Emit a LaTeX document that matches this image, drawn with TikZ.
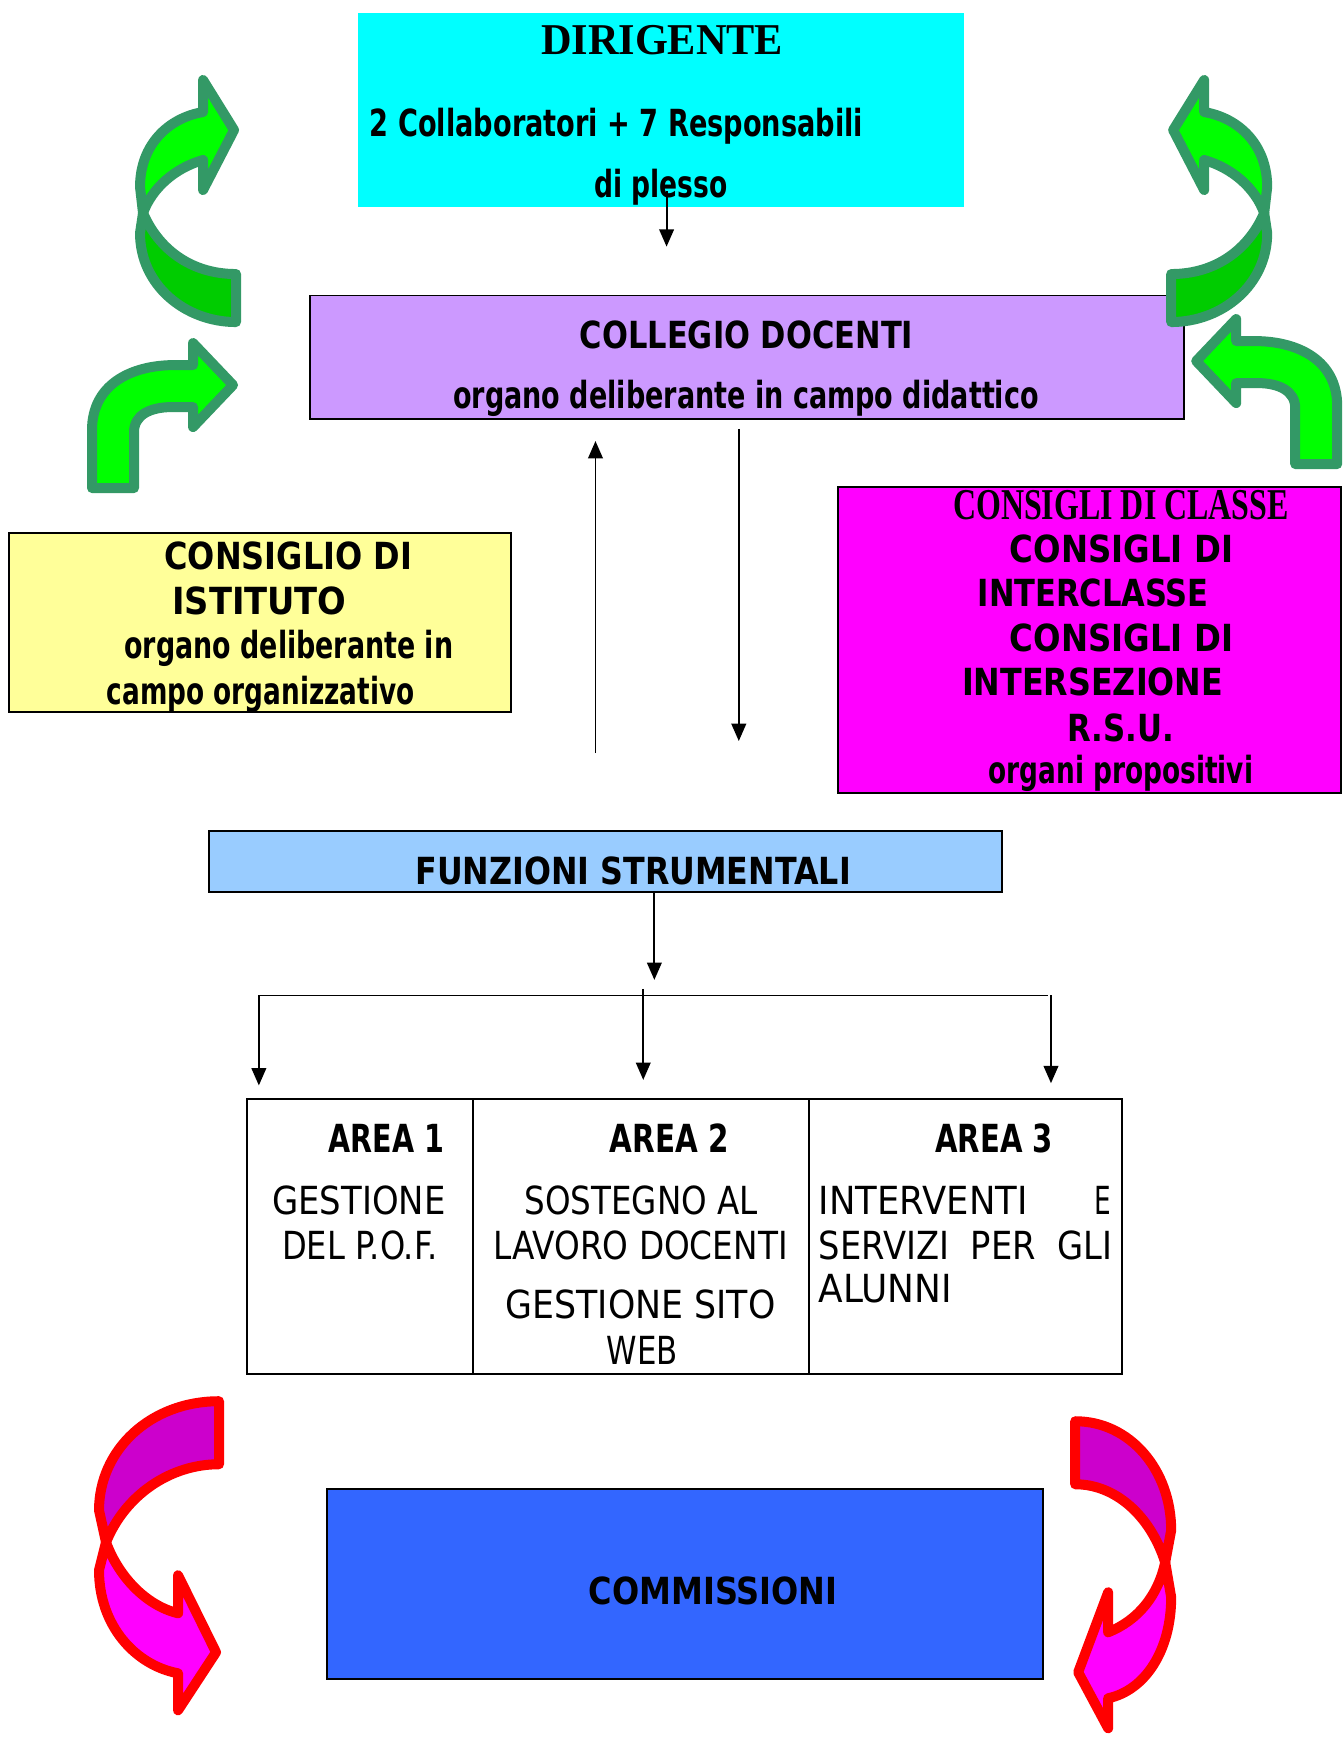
\documentclass[tikz,border=0pt]{standalone}
\usepackage{fontspec}
\usepackage{graphicx}
\usetikzlibrary{arrows.meta}
\newfontfamily\comicf{DejaVu Sans}
\newfontfamily\narrowf{DejaVu Sans}
\newfontfamily\tnr{Liberation Serif}
\newlength\pxu \setlength\pxu{0.8331pt}
\newcommand\fitto[2]{\resizebox{#1\pxu}{\height}{#2}}
\definecolor{cyanbox}{HTML}{00FFFF}
\definecolor{lavbox}{HTML}{CC99FF}
\definecolor{yelbox}{HTML}{FFFF99}
\definecolor{magbox}{HTML}{FF00FF}
\definecolor{funbox}{HTML}{99CCFF}
\definecolor{combox}{HTML}{3366FF}
\definecolor{gbright}{HTML}{00FF00}
\definecolor{gdark}{HTML}{00CC00}
\definecolor{gline}{HTML}{339966}
\definecolor{rpurple}{HTML}{CC00CC}
\definecolor{rmag}{HTML}{FF00FF}
\definecolor{rline}{HTML}{FF0000}
\newcommand\boxat[6]{\node[boxs,#6,minimum width={(#4-#2)*0.8331pt},minimum height={(#5-#3)*0.8331pt}] (#1) at ({(#2+#4)/2},{(#3+#5)/2}) {};}
\tikzset{
 lbl/.style={inner sep=0pt, outer sep=0pt, anchor=base west, font=\comicf\bfseries\fontsize{28}{28}\selectfont},
 lblt/.style={lbl, font=\tnr\bfseries\fontsize{33}{33}\selectfont},
 lbln/.style={lbl, font=\narrowf\fontsize{29}{29}\selectfont},
 lblnb/.style={lbl, font=\narrowf\bfseries\fontsize{29}{29}\selectfont},
 boxs/.style={draw=black, line width=1.4pt, inner sep=0pt, outer sep=0pt},
 conn/.style={line width=1.4pt, -{Triangle[length=13pt,width=11pt]}},
 gstroke/.style={draw=gline, line width=7.5pt, line join=round},
 rstroke/.style={draw=rline, line width=7.5pt, line join=round},
}
\newcommand\greenU{%
 \filldraw[gstroke, fill=gdark] (143,213) -- (140,233) .. controls (140,285) and (185,322) .. (236,322) -- (236,274) .. controls (190,274) and (158,248) .. (143,213) -- cycle;
 \filldraw[gstroke, fill=gbright] (143,213) -- (140,187) .. controls (140,145) and (168,118) .. (203,112) -- (203,80) -- (234,130) -- (203,190) -- (203,160) .. controls (175,168) and (152,188) .. (143,213) -- cycle;}
\newcommand\greenL{%
 \filldraw[gstroke, fill=gbright] (92,488) -- (92,430) .. controls (92,385) and (130,365) .. (175,365) -- (193,365) -- (193,343) -- (233,385) -- (193,427) -- (193,407) -- (172,407) .. controls (150,407) and (134,415) .. (134,432) -- (134,488) -- cycle;}
\begin{document}
\begin{tikzpicture}[x=0.8331pt,y=-0.8331pt]
\useasboundingbox (0,0) rectangle (1209,1568);
\fill[white] (0,0) rectangle (1209,1568);

% boxes
\boxat{dir}{322}{12}{868}{186}{draw=none,fill=cyanbox}
\boxat{col}{279}{266}{1066}{377}{fill=lavbox}
\boxat{ist}{8}{480}{460}{641}{fill=yelbox}
\boxat{cons}{754}{438}{1207}{714}{fill=magbox}
\boxat{fs}{188}{748}{902}{803}{fill=funbox}
\boxat{a1}{222}{989}{426}{1237}{fill=white}
\boxat{a2}{426}{989}{728}{1237}{fill=white}
\boxat{a3}{728}{989}{1010}{1237}{fill=white}
\boxat{com}{294}{1340}{939}{1511}{fill=combox}

% texts
\node[lblt] (tdir) at (487,49) {\fitto{218}{DIRIGENTE}};
\node[lbl] (tcoll) at (333,123) {\fitto{444}{2 Collaboratori + 7 Responsabili}};
\node[lbl] (tples) at (535,178) {\fitto{120}{di plesso}};
\node[lbl] (tcd) at (522,314) {\fitto{300}{COLLEGIO DOCENTI}};
\node[lbl] (tcd2) at (408,368) {\fitto{527}{organo deliberante in campo didattico}};
\node[lbl] (ti1) at (148,513) {\fitto{223}{CONSIGLIO DI}};
\node[lbl] (ti2) at (155,553) {\fitto{157}{ISTITUTO}};
\node[lbl] (ti3) at (112,593) {\fitto{296}{organo deliberante in}};
\node[lbl] (ti4) at (96,634) {\fitto{277}{campo organizzativo}};
\node[lblt] (tc1) at (858,468) {\fitto{302}{CONSIGLI DI CLASSE}};
\node[lbl] (tc2) at (909,506) {\fitto{201}{CONSIGLI DI}};
\node[lbl] (tc3) at (880,546) {\fitto{208}{INTERCLASSE}};
\node[lbl] (tc4) at (909,586) {\fitto{201}{CONSIGLI DI}};
\node[lbl] (tc5) at (866,626) {\fitto{235}{INTERSEZIONE}};
\node[lbl] (tc6) at (961,667) {\fitto{96}{R.S.U.}};
\node[lbl] (tc7) at (890,705) {\fitto{238}{organi propositivi}};
\node[lbl] (tfs) at (374,796) {\fitto{392}{FUNZIONI STRUMENTALI}};
\node[lblnb] (ta1) at (296,1037) {\fitto{104}{AREA 1}};
\node[lbln] (ta1a) at (245,1093) {\fitto{156}{GESTIONE}};
\node[lbln] (ta1b) at (254,1134) {\fitto{140}{DEL P.O.F.}};
\node[lblnb] (ta2) at (549,1037) {\fitto{107}{AREA 2}};
\node[lbln] (ta2a) at (472,1093) {\fitto{210}{SOSTEGNO AL}};
\node[lbln] (ta2b) at (444,1134) {\fitto{265}{LAVORO DOCENTI}};
\node[lbln] (ta2c) at (455,1187) {\fitto{243}{GESTIONE SITO}};
\node[lbln] (ta2d) at (546,1228) {\fitto{64}{WEB}};
\node[lblnb] (ta3) at (842,1037) {\fitto{106}{AREA 3}};
\node[lbln] (ta3a) at (737,1093) {\hbox to 263\pxu{\fitto{188}{INTERVENTI}\hfill\fitto{15}{E}}};
\node[lbln] (ta3b) at (737,1134) {\fitto{264}{SERVIZI~~PER~~GLI}};
\node[lbln] (ta3c) at (737,1172) {\fitto{120}{ALUNNI}};
\node[lbl] (tcom) at (530,1444) {\fitto{224}{COMMISSIONI}};

% connectors
\coordinate (d1) at (600,172); \coordinate (d2) at (600,222);
\draw[conn] (d1) -- (d2);
\coordinate (u1) at (536,678); \coordinate (u2) at (536,397);
\draw[conn] (u1) -- (u2);
\coordinate (v1) at (665,386); \coordinate (v2) at (665,667);
\draw[conn] (v1) -- (v2);
\coordinate (f2) at (589,882);
\draw[conn] (fs.south -| f2) -- (f2);
\coordinate (hl) at (233,896); \coordinate (hr) at (943,896);
\draw[line width=1.4pt] (hl) -- (hr);
\coordinate (t1) at (233,977);
\draw[conn] (hl) -- (t1);
\coordinate (m0) at (579,890); \coordinate (t2) at (579,972);
\draw[conn] (m0) -- (t2);
\coordinate (r0) at (946,896); \coordinate (t3) at (946,975);
\draw[conn] (r0) -- (t3);

% green arrows (full-size pixel coordinates)
\begin{scope}[x=0.75pt,y=-0.75pt]
 \greenU
 \greenL
\end{scope}
\begin{scope}[x=0.75pt,y=-0.75pt,xshift=1055.25pt,xscale=-1]
 \greenU
\end{scope}
\begin{scope}[x=0.75pt,y=-0.75pt,shift={(1071.75pt,18pt)},xscale=-1]
 \greenL
\end{scope}

% red arrows
\begin{scope}[x=0.75pt,y=-0.75pt]
 \filldraw[rstroke, fill=rpurple] (219,1401) .. controls (150,1401) and (99,1450) .. (99,1510) -- (106,1542) .. controls (125,1495) and (170,1464) .. (219,1464) -- cycle;
 \filldraw[rstroke, fill=rmag] (106,1542) -- (99,1570) .. controls (99,1625) and (135,1665) .. (178,1673) -- (178,1710) -- (216,1652) -- (178,1575) -- (178,1613) .. controls (145,1605) and (118,1575) .. (106,1542) -- cycle;
 \filldraw[rstroke, fill=rpurple] (1075,1421) .. controls (1130,1421) and (1171,1470) .. (1171,1530) -- (1165,1562) .. controls (1150,1515) and (1115,1484) .. (1075,1484) -- cycle;
 \filldraw[rstroke, fill=rmag] (1165,1562) -- (1171,1597) .. controls (1171,1650) and (1145,1690) .. (1108,1698) -- (1108,1728) -- (1078,1672) -- (1108,1592) -- (1108,1632) .. controls (1138,1620) and (1158,1595) .. (1165,1562) -- cycle;
\end{scope}
\end{tikzpicture}
\end{document}
